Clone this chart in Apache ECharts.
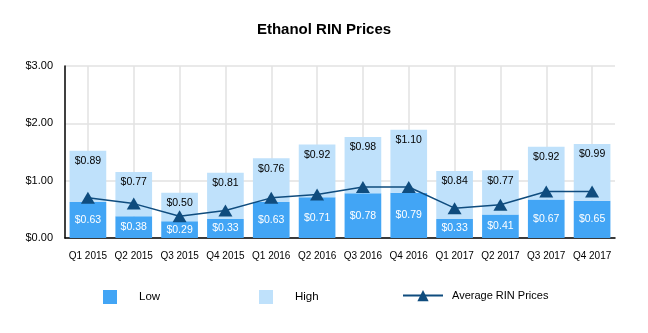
<!DOCTYPE html>
<html>
<head>
<meta charset="utf-8">
<script src="https://cdn.jsdelivr.net/npm/echarts@6/dist/echarts.min.js"></script>
<style>html,body{margin:0;padding:0;background:#fff}#c{width:648px;height:333px}</style>
</head>
<body>
<div id="c"></div>
<script>
const categories = ['Q1 2015','Q2 2015','Q3 2015','Q4 2015','Q1 2016','Q2 2016','Q3 2016','Q4 2016','Q1 2017','Q2 2017','Q3 2017','Q4 2017'];
const lowValues = [0.63,0.38,0.29,0.33,0.63,0.71,0.78,0.79,0.33,0.41,0.67,0.65];
const highValues = [0.89,0.77,0.50,0.81,0.76,0.92,0.98,1.10,0.84,0.77,0.92,0.99];
const avgValues = [0.70,0.60,0.38,0.48,0.70,0.76,0.89,0.89,0.52,0.58,0.81,0.81];
const yTicks = [0,1,2,3];

const SANS = '"Liberation Sans", Arial, sans-serif';
const money = v => '$' + Number(v).toFixed(2);

const chart = echarts.init(document.getElementById('c'), null, {renderer: 'canvas'});
chart.setOption({
  animation: false,
  backgroundColor: '#fff',
  title: {
    text: 'Ethanol RIN Prices', left: 'center', top: 17,
    textStyle: {fontFamily: SANS, fontWeight: 'bold', fontSize: 15, color: '#000'}
  },
  legend: [
    {data: [{name: 'Low', icon: 'rect'}], left: 103, top: 290, padding: 0, itemWidth: 14, itemHeight: 14, itemGap: 0,
     textStyle: {fontFamily: SANS, fontSize: 11.5, color: '#000', padding: [0,0,0,17]}},
    {data: [{name: 'High', icon: 'rect'}], left: 259, top: 290, padding: 0, itemWidth: 14, itemHeight: 14, itemGap: 0,
     textStyle: {fontFamily: SANS, fontSize: 11.5, color: '#000', padding: [0,0,0,17]}},
    {data: ['Average RIN Prices'], left: 402, top: 290, padding: 0, itemWidth: 40, itemHeight: 14, itemGap: 0,
     textStyle: {fontFamily: SANS, fontSize: 11, color: '#000', padding: [0,0,0,4]}}
  ],
  grid: {left: 65, right: 33, top: 66, bottom: 95, containLabel: false},
  xAxis: {
    type: 'category', data: categories,
    axisLine: {show: true, lineStyle: {color: '#000', width: 1.5}},
    axisTick: {show: false},
    axisLabel: {fontFamily: SANS, fontSize: 10, color: '#000', margin: 13, interval: 0},
    splitLine: {show: true, alignWithLabel: true, lineStyle: {color: '#e2e2e2', width: 1.5}}
  },
  yAxis: {
    type: 'value', min: 0, max: 3, interval: 1,
    axisLine: {show: true, lineStyle: {color: '#000', width: 1.5}},
    axisTick: {show: false},
    axisLabel: {fontFamily: SANS, fontSize: 11, color: '#000', margin: 12, formatter: v => money(v)},
    splitLine: {show: true, lineStyle: {color: '#e2e2e2', width: 1.5}}
  },
  series: [
    {name: 'Low', type: 'bar', stack: 'p', data: lowValues, barCategoryGap: '20%',
     itemStyle: {color: '#42A5F5'},
     label: {show: true, position: 'inside', color: '#fff', fontFamily: SANS, fontSize: 10.5, formatter: p => money(p.value)}},
    {name: 'High', type: 'bar', stack: 'p', data: highValues,
     itemStyle: {color: '#BFE1FB'},
     label: {show: true, position: 'insideTop', distance: 5, color: '#000', fontFamily: SANS, fontSize: 10.5, formatter: p => money(p.value)}},
    {name: 'Average RIN Prices', type: 'line', data: avgValues, z: 5,
     symbol: 'triangle', symbolSize: [14, 12],
     lineStyle: {color: '#0F4C7E', width: 1.5},
     itemStyle: {color: '#0F4C7E'}}
  ]
});
</script>
</body>
</html>
